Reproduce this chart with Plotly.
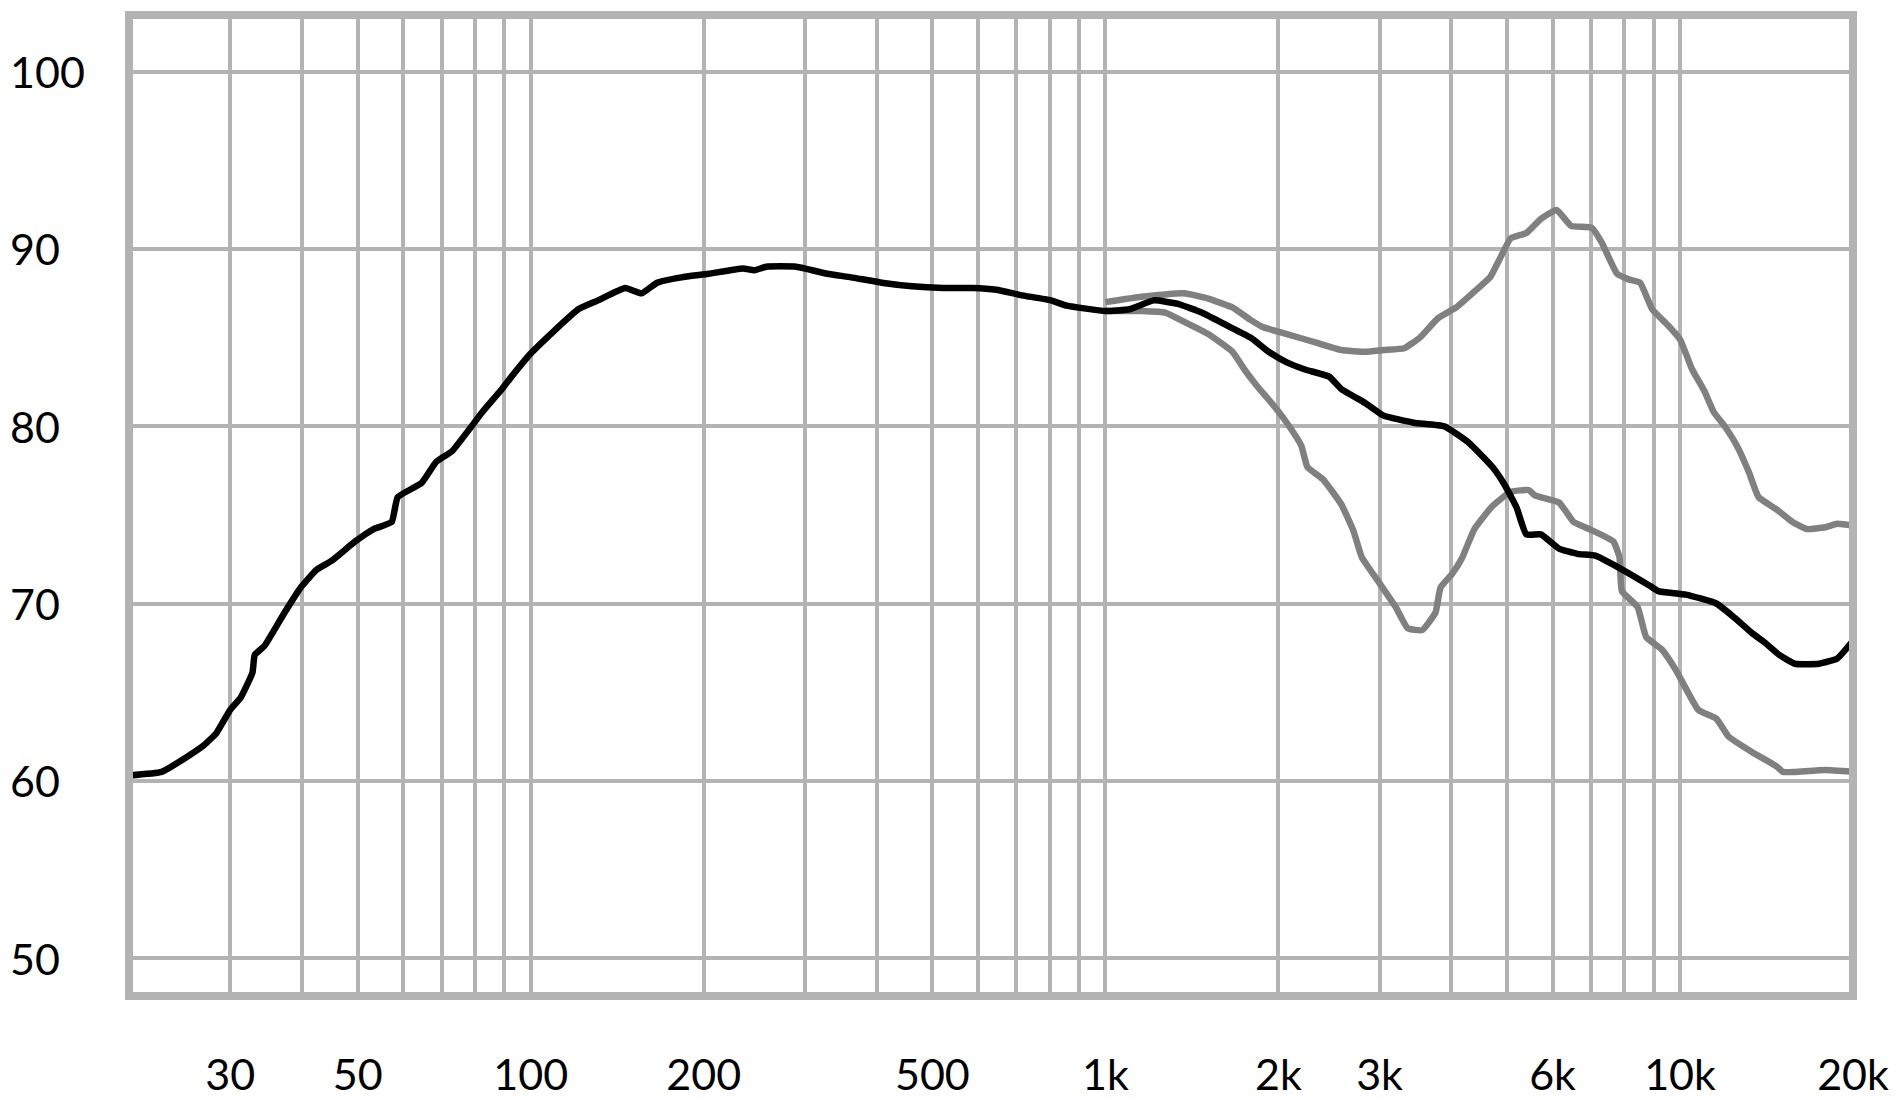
import plotly.graph_objects as go
import math

# ---- data ----
freq_main = [20, 22.8, 25.1, 27.0, 28.4, 30, 31.3, 32.8, 33.1, 34.4, 37.0, 39.8, 42.4, 45.0, 49.5,
             53.3, 57.3, 58.7, 64.6, 68.5, 73.0, 82.4, 88.6, 92.1, 100, 110, 121, 131, 146, 156,
             166, 183, 204, 234, 245, 257, 290, 328, 361, 408, 461, 522, 587, 646, 712, 804, 857,
             1000, 1102, 1214, 1338, 1474, 1624, 1789, 1924, 2069, 2226, 2452, 2573, 2836, 3049,
             3442, 3886, 4281, 4717, 4951, 5197, 5403, 5727, 6158, 6624, 7124, 7847, 8859, 9165,
             10240, 11570, 12440, 13380, 14040, 14880, 15850, 17460, 18780, 20000]
db_main = [60.3, 60.5, 61.3, 62.0, 62.7, 64.0, 64.7, 66.1, 67.1, 67.6, 69.3, 70.9, 71.9, 72.4, 73.5,
           74.2, 74.6, 76.0, 76.8, 78.0, 78.6, 80.8, 82.0, 82.7, 84.1, 85.4, 86.6, 87.1, 87.8, 87.5,
           88.1, 88.4, 88.6, 88.9, 88.8, 89.0, 89.0, 88.6, 88.4, 88.1, 87.9, 87.8, 87.8, 87.7, 87.4,
           87.1, 86.8, 86.5, 86.6, 87.1, 86.9, 86.4, 85.7, 85.0, 84.2, 83.6, 83.2, 82.8, 82.1, 81.3,
           80.6, 80.2, 80.0, 79.1, 77.7, 76.7, 75.4, 73.9, 73.9, 73.1, 72.8, 72.7, 72.0, 71.0, 70.7,
           70.5, 70.0, 69.2, 68.3, 67.8, 67.1, 66.6, 66.6, 66.9, 67.9]

freq_upper = [1000, 1157, 1370, 1510, 1664, 1789, 1878, 2069, 2336, 2573, 2836, 3049, 3311, 3527,
              3793, 4078, 4387, 4672, 4832, 5074, 5403, 5727, 6099, 6465, 7021, 7298, 7772, 8121,
              8521, 8944, 9527, 10000, 10500, 11020, 11450, 11960, 12560, 13180, 13700, 14740,
              15700, 16640, 17890, 18780, 20000]
db_upper = [87.0, 87.3, 87.5, 87.2, 86.7, 86.0, 85.6, 85.2, 84.7, 84.3, 84.2, 84.3, 84.4, 85.0,
            86.1, 86.7, 87.6, 88.4, 89.3, 90.6, 90.9, 91.7, 92.2, 91.3, 91.2, 90.4, 88.6, 88.3,
            88.1, 86.6, 85.7, 84.9, 83.2, 82.0, 80.8, 80.0, 78.9, 77.4, 76.0, 75.3,
            74.6, 74.2, 74.3, 74.5, 74.4]

freq_lower = [1000, 1157, 1274, 1370, 1510, 1664, 1746, 1833, 1971, 2089, 2193, 2247, 2393, 2573,
              2702, 2795, 2977, 3201, 3360, 3561, 3755, 3830, 4019, 4180, 4387, 4717, 5074, 5456,
              5590, 6158, 6529, 6952, 7657, 7847, 7923, 8439, 8733, 9300, 9854, 10760, 11570,
              12140, 13380, 14740, 15100, 15850, 17890, 20000]
db_lower = [86.5, 86.5, 86.4, 85.9, 85.2, 84.2, 83.2, 82.3, 81.1, 80.0, 78.9, 77.7, 77.0, 75.6,
            74.1, 72.6, 71.3, 69.8, 68.6, 68.5, 69.5, 70.9, 71.7, 72.6, 74.2, 75.5, 76.3, 76.4,
            76.1, 75.7, 74.6, 74.2, 73.5, 72.6, 70.7, 69.8, 68.1, 67.4, 66.2, 64.0, 63.5,
            62.5, 61.6, 60.8, 60.5, 60.5, 60.6, 60.5]

grid_freqs = [30, 40, 50, 60, 70, 80, 90, 100, 200, 300, 400, 500, 600, 700, 800, 900, 1000,
              2000, 3000, 4000, 5000, 6000, 7000, 8000, 9000, 10000, 20000]
x_labels = {30: "30", 50: "50", 100: "100", 200: "200", 500: "500", 1000: "1k", 2000: "2k",
            3000: "3k", 6000: "6k", 10000: "10k", 20000: "20k"}
y_ticks = [50, 60, 70, 80, 90, 100]

GRID = "#b3b3b3"
GRAY = "#808080"
FONT = "Lato"
FSIZE = 43

fig = go.Figure()
for fx, fy in ((freq_upper, db_upper), (freq_lower, db_lower)):
    fig.add_trace(go.Scatter(x=fx, y=fy, mode="lines",
                             line=dict(color=GRAY, width=6.5, shape="spline", smoothing=0.4),
                             showlegend=False, hoverinfo="skip"))
fig.add_trace(go.Scatter(x=freq_main, y=db_main, mode="lines",
                         line=dict(color="#000000", width=6.5, shape="spline", smoothing=0.4),
                         showlegend=False, hoverinfo="skip"))

fig.update_xaxes(type="log", range=[math.log10(20), math.log10(20000)],
                 tickmode="array", tickvals=grid_freqs,
                 ticktext=[x_labels.get(f, "") for f in grid_freqs],
                 showgrid=True, gridcolor=GRID, gridwidth=4,
                 showline=False, zeroline=False, ticks="",
                 tickfont=dict(family=FONT, size=FSIZE, color="#000000"),
                 ticklabelstandoff=50)
fig.update_yaxes(range=[47.857, 103.2], tickmode="array", tickvals=y_ticks,
                 showticklabels=False,
                 showgrid=True, gridcolor=GRID, gridwidth=4,
                 showline=False, zeroline=False, ticks="")

for v in y_ticks:
    fig.add_annotation(x=0, xref="paper", y=v, yref="y", text=str(v), showarrow=False,
                       xanchor="left", yanchor="middle", xshift=-121,
                       font=dict(family=FONT, size=FSIZE, color="#000000"))

fig.add_shape(type="rect", xref="paper", yref="paper", x0=0, y0=0, x1=1, y1=1,
              line=dict(color=GRID, width=8), layer="above")

fig.update_layout(width=1899, height=1099,
                  margin=dict(l=121, r=54, t=6.5, b=111, pad=0),
                  plot_bgcolor="white", paper_bgcolor="white")

fig.write_html("out.html")
